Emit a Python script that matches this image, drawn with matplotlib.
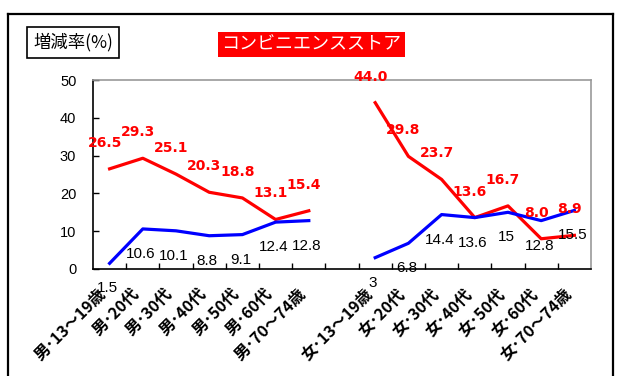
import numpy as np
import matplotlib
matplotlib.use("Agg")
import matplotlib.pyplot as plt
from matplotlib.lines import Line2D

plt.rcParams['font.family'] = ['Noto Sans CJK JP', 'DejaVu Sans']

# Age groups (male, gap, female)
categories = ["男･13～19歳", "男･20代", "男･30代", "男･40代", "男･50代", "男･60代", "男･70～74歳",
              "",
              "女･13～19歳", "女･20代", "女･30代", "女･40代", "女･50代", "女･60代", "女･70～74歳"]

# Red series (bold red labels)
red_vals = [26.5, 29.3, 25.1, 20.3, 18.8, 13.1, 15.4,
            np.nan,
            44.0, 29.8, 23.7, 13.6, 16.7, 8.0, 8.9]
# Blue series (black labels)
blue_vals = [1.5, 10.6, 10.1, 8.8, 9.1, 12.4, 12.8,
             np.nan,
             3, 6.8, 14.4, 13.6, 15, 12.8, 15.5]

y_ticks = [0, 10, 20, 30, 40, 50]

W, H = 618, 376
fig = plt.figure(figsize=(W / 100, H / 100), dpi=100)
fig.patch.set_facecolor("white")

ax = fig.add_axes([93 / W, 1 - 269 / H, (591 - 93) / W, (269 - 80) / H])
x = np.arange(len(categories))

ax.plot(x, red_vals, color="#FF0000", lw=2.3, solid_joinstyle="round", zorder=3)
ax.plot(x, blue_vals, color="#0000FF", lw=2.3, solid_joinstyle="round", zorder=3)

px = 72 / 100  # pixels -> points
for xi, v in zip(x, red_vals):
    if np.isnan(v):
        continue
    ax.annotate(f"{v:.1f}", (xi, v), xytext=(-5 * px, 26 * px), textcoords="offset points",
                ha="center", va="center", color="#FF0000", fontsize=10, fontweight="bold",
                family=["DejaVu Sans"], zorder=4)
for xi, v in zip(x, blue_vals):
    if np.isnan(v):
        continue
    ax.annotate(f"{v:g}", (xi, v), xytext=(-2 * px, -25 * px), textcoords="offset points",
                ha="center", va="center", color="black", fontsize=11,
                family=["Liberation Sans", "DejaVu Sans"], zorder=4)

ax.set_xlim(-0.5, len(categories) - 0.5)
ax.set_ylim(0, 50)
ax.set_yticks(y_ticks)
ax.set_yticklabels([str(t) for t in y_ticks], fontsize=10.5, family=["Liberation Sans", "DejaVu Sans"])
ax.tick_params(axis="y", direction="in", length=4, width=1, pad=12)

ax.set_xticks(x)
ax.set_xticklabels(categories, rotation=45, ha="right", va="top", fontsize=11.5, fontweight="bold")
ax.tick_params(axis="x", which="major", length=0, pad=12)
ax.set_xticks(np.arange(0.5, len(categories) - 1, 1.0), minor=True)
ax.tick_params(axis="x", which="minor", direction="in", length=4, width=1)

for side in ("top", "right"):
    ax.spines[side].set_color("#999999")
    ax.spines[side].set_linewidth(1.2)
for side in ("left", "bottom"):
    ax.spines[side].set_color("black")
    ax.spines[side].set_linewidth(1.2)

# Outer frame (open at the bottom)
fx0, fx1, fy1 = 8 / W, 613 / W, 1 - 14 / H
for xs, ys in (([fx0, fx0], [-0.1, fy1]), ([fx0, fx1], [fy1, fy1]), ([fx1, fx1], [fy1, -0.1])):
    fig.add_artist(Line2D(xs, ys, transform=fig.transFigure, color="black", lw=1.6))

# Unit box
fig.text(73 / W, 1 - 42.5 / H, "増減率(%)", ha="center", va="center", fontsize=12.5,
         bbox=dict(boxstyle="square,pad=0.35", facecolor="white", edgecolor="black", lw=1.2))

# Title box
fig.text(311.5 / W, 1 - 44.5 / H, "コンビニエンスストア", ha="center", va="center",
         fontsize=13, color="white",
         bbox=dict(boxstyle="square,pad=0.2", facecolor="#FF0000", edgecolor="none"))

fig.savefig("out.png", dpi=100)
